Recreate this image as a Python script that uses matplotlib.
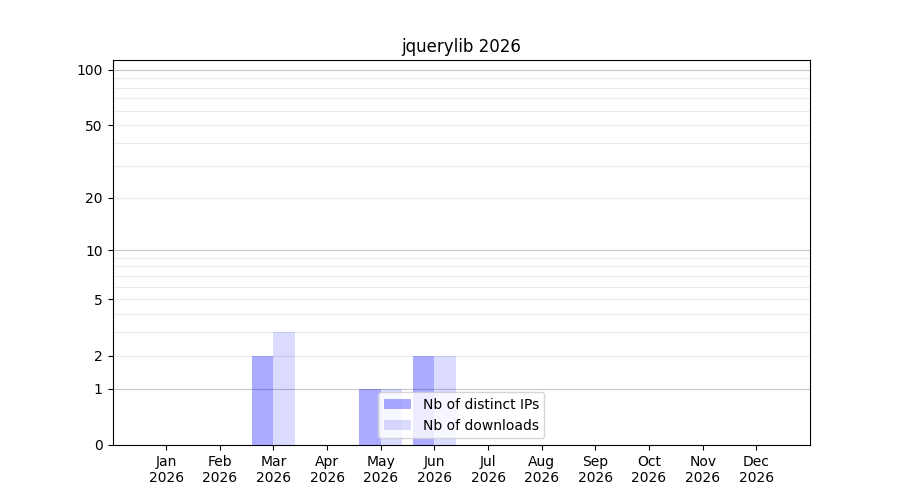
import numpy as np
import matplotlib
matplotlib.use("Agg")
import matplotlib.pyplot as plt

# monthly stats for 2026
months = ["Jan", "Feb", "Mar", "Apr", "May", "Jun",
          "Jul", "Aug", "Sep", "Oct", "Nov", "Dec"]
year = 2026
distinct_ips = [0, 0, 2, 0, 1, 2, 0, 0, 0, 0, 0, 0]
downloads = [0, 0, 3, 0, 1, 2, 0, 0, 0, 0, 0, 0]

ytick_values = [0, 1, 2, 5, 10, 20, 50, 100]


def fwd(y):
    return np.log10(1 + np.maximum(y, 0))


def inv(y):
    return 10 ** y - 1


fig, ax = plt.subplots(figsize=(9, 5), dpi=100)
ax.set_yscale("function", functions=(fwd, inv))

x = np.arange(len(months))
ax.bar(x, distinct_ips, width=-0.4, align="edge", color="blue", alpha=0.33,
       label="Nb of distinct IPs")
ax.bar(x, downloads, width=0.4, align="edge", color="blue", alpha=0.14,
       label="Nb of downloads")

# grid lines: light ones for 2..9, 20..90, darker for decades
for dec in [1, 10]:
    for k in range(2, 10):
        ax.axhline(k * dec, color="#ebebeb", lw=0.8, zorder=0)
for v in [1, 10, 100]:
    ax.axhline(v, color="#c8c8c8", lw=0.8, zorder=0)

ax.set_ylim(0, 113)
ax.set_yticks(ytick_values)
ax.set_yticklabels([str(v) for v in ytick_values])
ax.set_xlim(-1, 12)
ax.set_xticks(x)
ax.set_xticklabels([f"{m}\n{year}" for m in months])
ax.set_title(f"jquerylib {year}")
ax.legend(loc="lower center")

fig.savefig("out.png")
